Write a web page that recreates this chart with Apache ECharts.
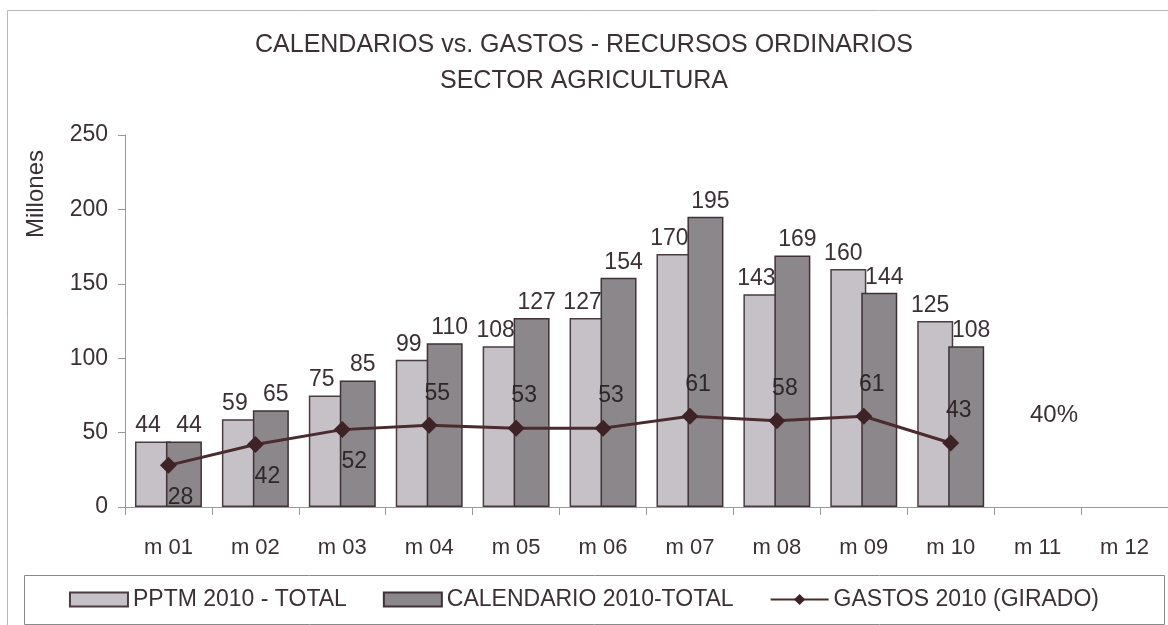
<!DOCTYPE html>
<html>
<head>
<meta charset="utf-8">
<script src="https://cdn.jsdelivr.net/npm/echarts@6/dist/echarts.min.js"></script>
<style>
  html, body { margin: 0; padding: 0; background: #fff; }
  #chart { width: 1168px; height: 625px; }
</style>
</head>
<body>
<div id="chart"></div>
<script>
  // categorias y valores
  const meses = ['m 01', 'm 02', 'm 03', 'm 04', 'm 05', 'm 06', 'm 07', 'm 08', 'm 09', 'm 10', 'm 11', 'm 12'];
  const pptm = [44, 59, 75, 99, 108, 127, 170, 143, 160, 125, null, null];
  const calendario = [44, 65, 85, 110, 127, 154, 195, 169, 144, 108, null, null];
  const gastos = [28, 42, 52, 55, 53, 53, 61, 58, 61, 43, null, null];
  const yTicks = [0, 50, 100, 150, 200, 250];

  const narrow = '"Liberation Sans Narrow", "Arial Narrow", "Liberation Sans", Arial, sans-serif';
  const normal = '"Liberation Sans", Arial, sans-serif';
  const ink = '#3b3036';

  let myChart = echarts.init(document.getElementById('chart'));

  let option = {
    backgroundColor: '#fff',
    animation: false,
    title: {
      text: 'CALENDARIOS vs. GASTOS - RECURSOS ORDINARIOS\nSECTOR AGRICULTURA',
      left: 'center',
      top: 22,
      textStyle: {
        fontFamily: narrow,
        fontSize: 25,
        fontWeight: 'normal',
        color: '#3a3035',
        lineHeight: 36
      }
    },
    grid: {
      left: 125,
      right: 0,
      top: 135,
      bottom: 118
    },
    legend: {
      bottom: 9,
      left: 'center',
      itemGap: 36,
      itemWidth: 58,
      itemHeight: 14,
      textStyle: { fontFamily: narrow, fontSize: 23, color: ink },
      data: [
        { name: 'PPTM 2010 - TOTAL', icon: 'rect' },
        { name: 'CALENDARIO 2010-TOTAL', icon: 'rect' },
        { name: 'GASTOS 2010 (GIRADO)' }
      ]
    },
    xAxis: {
      type: 'category',
      data: meses,
      axisLine: { lineStyle: { color: '#9a9a9a' } },
      axisTick: { show: true, length: 8, lineStyle: { color: '#9a9a9a' } },
      axisLabel: { fontFamily: narrow, fontSize: 22, color: ink, margin: 30 }
    },
    yAxis: {
      type: 'value',
      min: yTicks[0],
      max: yTicks[yTicks.length - 1],
      interval: 50,
      splitLine: { show: false },
      axisLine: { show: true, lineStyle: { color: '#9a9a9a' } },
      axisTick: { show: true, length: 7, lineStyle: { color: '#9a9a9a' } },
      axisLabel: { fontFamily: normal, fontSize: 23, color: ink, margin: 17 }
    },
    series: [
      {
        name: 'PPTM 2010 - TOTAL',
        type: 'bar',
        data: pptm,
        barWidth: 36,
        barGap: '-14%',
        itemStyle: { color: '#c6c1c6', borderColor: '#4a3d42', borderWidth: 1.5 },
        label: {
          show: true, position: 'top', distance: 4,
          fontFamily: normal, fontSize: 23, color: ink, offset: [-5, 0]
        }
      },
      {
        name: 'CALENDARIO 2010-TOTAL',
        type: 'bar',
        data: calendario,
        barWidth: 36,
        itemStyle: { color: '#8c878b', borderColor: '#3e3236', borderWidth: 1.5 },
        label: {
          show: true, position: 'top', distance: 4,
          fontFamily: normal, fontSize: 23, color: ink, offset: [5, 0]
        }
      },
      {
        name: 'GASTOS 2010 (GIRADO)',
        type: 'line',
        data: gastos.map((v, i) => ({
          value: v,
          label: { position: i < 3 ? 'bottom' : 'top', offset: i < 3 ? [12, 4] : [8, -4] }
        })),
        symbol: 'diamond',
        symbolSize: 17,
        lineStyle: { color: '#4a2b2e', width: 3 },
        itemStyle: { color: '#3d2226' },
        label: {
          show: true, distance: 8,
          fontFamily: normal, fontSize: 23, color: '#2e2629'
        },
        z: 5
      }
    ],
    graphic: [
      {
        type: 'rect',
        left: 5, top: 8,
        shape: { width: 1170, height: 640 },
        style: { fill: 'none', stroke: '#b8b8b8', lineWidth: 1 },
        silent: true
      },
      {
        type: 'rect',
        left: 22, top: 573,
        shape: { width: 1140, height: 49 },
        style: { fill: 'none', stroke: '#8a8a8a', lineWidth: 1 },
        silent: true
      },
      {
        type: 'text',
        left: 24, top: 150,
        rotation: Math.PI / 2,
        style: { text: 'Millones', fontFamily: normal, fontSize: 24, fill: ink }
      },
      {
        type: 'text',
        left: 1030, top: 403,
        style: { text: '40%', fontFamily: normal, fontSize: 24, fill: ink }
      }
    ]
  };

  myChart.setOption(option);
</script>
</body>
</html>
